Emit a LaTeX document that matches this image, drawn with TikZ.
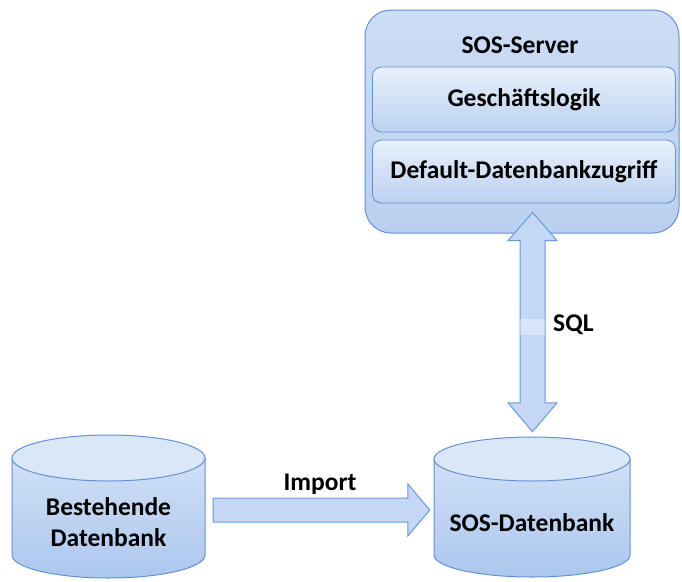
\documentclass[tikz,border=0pt]{standalone}
\usepackage{fontspec}
\setmainfont{Carlito}
\usetikzlibrary{calc}
\definecolor{bordc}{RGB}{100,145,212}
\definecolor{srvtop}{RGB}{204,221,245}
\definecolor{srvbot}{RGB}{186,208,240}
\definecolor{boxtop}{RGB}{232,240,251}
\definecolor{boxbot}{RGB}{188,209,240}
\definecolor{cyltop}{RGB}{208,224,246}
\definecolor{cylbot}{RGB}{172,199,237}
\definecolor{cylcap}{RGB}{218,231,248}
\definecolor{arrfill}{RGB}{196,216,245}
\definecolor{arrbord}{RGB}{108,152,218}
\begin{document}
\begin{tikzpicture}[x=1pt,y=-1pt,
  lbl/.style={font=\fontsize{25.5}{31}\selectfont\bfseries, text=black, align=center, inner sep=0pt},
  outerbox/.style={draw=bordc, line width=1pt, rounded corners=26pt, top color=srvtop, bottom color=srvbot, inner sep=0pt},
  innerbox/.style={draw=bordc, line width=0.8pt, rounded corners=9pt, top color=boxtop, bottom color=boxbot, inner sep=0pt},
  cylbody/.style={draw=bordc, line width=1pt, top color=cyltop, bottom color=cylbot},
  cylcapst/.style={draw=bordc, line width=1pt, fill=cylcap},
  blockarrow/.style={draw=arrbord, line width=1pt, fill=arrfill, line join=miter}
]
\useasboundingbox (0,0) rectangle (682,581);

% ---------- SOS-Server ----------
\node[outerbox, minimum width=314pt, minimum height=223pt] (server) at (522,121.5) {};
\node[lbl] (srvtitle) at (520,45) {SOS-Server};
\node[innerbox, minimum width=303pt, minimum height=65pt, lbl] (logic) at (524,99.5) {Geschäftslogik};
\node[innerbox, minimum width=303pt, minimum height=63pt, lbl] (dbaccess) at (524,171.5) {Default-Datenbankzugriff};

% ---------- cylinders ----------
% Bestehende Datenbank: x 12..205, y 435..578
\path[cylbody] (12,458) -- (12,555) arc[start angle=180, end angle=360, x radius=96.5pt, y radius=23pt] -- (205,458) -- cycle;
\path[cylcapst] (108.5,458) ellipse[x radius=96.5pt, y radius=23pt];
\node[lbl, minimum width=193pt, minimum height=143pt] (olddb) at (108.5,522.5) {Bestehende\\Datenbank};

% SOS-Datenbank: x 434..630, y 437..577
\path[cylbody] (434,459) -- (434,555) arc[start angle=180, end angle=360, x radius=98pt, y radius=22pt] -- (630,459) -- cycle;
\path[cylcapst] (532,459) ellipse[x radius=98pt, y radius=22pt];
\node[lbl, minimum width=196pt, minimum height=140pt] (newdb) at (532,523) {SOS-Datenbank};

% ---------- SQL double arrow ----------
\coordinate (sqlT) at ($(server.south -| 532.5,0)+(0,-21)$);
\coordinate (sqlB) at ($(newdb.north -| 532.5,0)+(0,-21)$);
\path[blockarrow]
  (sqlT) -- ($(sqlT)+(24.5,28)$) -- ($(sqlT)+(12.5,28)$) -- ($(sqlB)+(12.5,-29)$)
  -- ($(sqlB)+(24.5,-29)$) -- (sqlB) -- ($(sqlB)+(-24.5,-29)$) -- ($(sqlB)+(-12.5,-29)$)
  -- ($(sqlT)+(-12.5,28)$) -- ($(sqlT)+(-24.5,28)$) -- cycle;
\fill[white, opacity=0.35] ($(sqlT)+(-12.5,106)$) rectangle ($(sqlT)+(12.5,122)$);
\node[lbl, anchor=west] (sql) at (553,325) {SQL};

% ---------- Import arrow ----------
\coordinate (impS) at ($(olddb.east)+(8,-12.5)$);
\coordinate (impT) at ($(newdb.west)+(-4,-13)$);
\path[blockarrow]
  (impS) ++(0,-12) -- ($(impT)+(-22,-12)$) -- ($(impT)+(-22,-26)$) -- (impT)
  -- ($(impT)+(-22,26)$) -- ($(impT)+(-22,12)$) -- ($(impS)+(0,12)$) -- cycle;
\node[lbl] (imp) at (320,484) {Import};
\end{tikzpicture}
\end{document}
